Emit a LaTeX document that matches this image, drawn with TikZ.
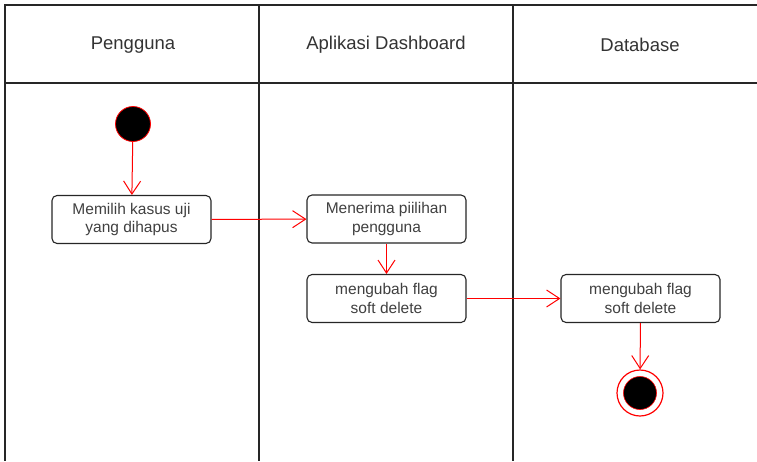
\documentclass[tikz,border=0pt]{standalone}
\usepackage{fontspec}
\setmainfont{Liberation Sans}
\usetikzlibrary{arrows.meta}
\begin{document}
\begin{tikzpicture}[x=1pt,y=-1pt,
  lane/.style={draw=black!85, line width=1.2pt},
  header/.style={font=\fontsize{18.5}{22}\selectfont, text=black!80},
  action/.style={draw=black!85, line width=1.1pt, rounded corners=5pt, fill=white,
    minimum width=159pt, minimum height=48pt, align=center, inner sep=2pt,
    font=\fontsize{15.5}{18.5}\selectfont, text=black!75},
  flow/.style={draw=red, line width=1pt, -{Straight Barb[length=13pt,width=17pt,line width=1pt]}},
  startnode/.style={circle, fill=black, draw=red, line width=0.8pt, minimum size=35pt, inner sep=0pt},
  endring/.style={circle, draw=red, line width=1.2pt, fill=white, minimum size=46pt, inner sep=0pt}
]
\useasboundingbox (0,0) rectangle (757,461);

% swimlane frame
\draw[lane] (757,5) -- (5,5) -- (5,461);
\draw[lane] (5,83) -- (757,83);
\draw[lane] (259,5) -- (259,461);
\draw[lane] (513,5) -- (513,461);

% lane titles
\node[header] (h1) at (133,45) {Pengguna};
\node[header] (h2) at (386,45) {Aplikasi Dashboard};
\node[header] (h3) at (640,45) {Database};

% activities
\node[startnode] (start) at (133,124) {};
\node[action] (a1) at (131.5,219.5) {Memilih kasus uji\\yang dihapus};
\node[action] (a2) at (386.5,219) {Menerima piilihan\\pengguna};
\node[action] (a3) at (386.5,298.5) {mengubah flag\\soft delete};
\node[action] (a4) at (640.5,298.5) {mengubah flag\\soft delete};
\node[endring] (stop) at (640,393) {};
\node[circle, fill=black, draw=red, line width=0.6pt, minimum size=33pt, inner sep=0pt] (stopdot) at (stop.center) {};

% control flow
\draw[flow] (start) -- (a1);
\draw[flow] (a1) -- (a2);
\draw[flow] (a2) -- (a3);
\draw[flow] (a3) -- (a4);
\draw[flow] (a4) -- (stop);
\end{tikzpicture}
\end{document}
